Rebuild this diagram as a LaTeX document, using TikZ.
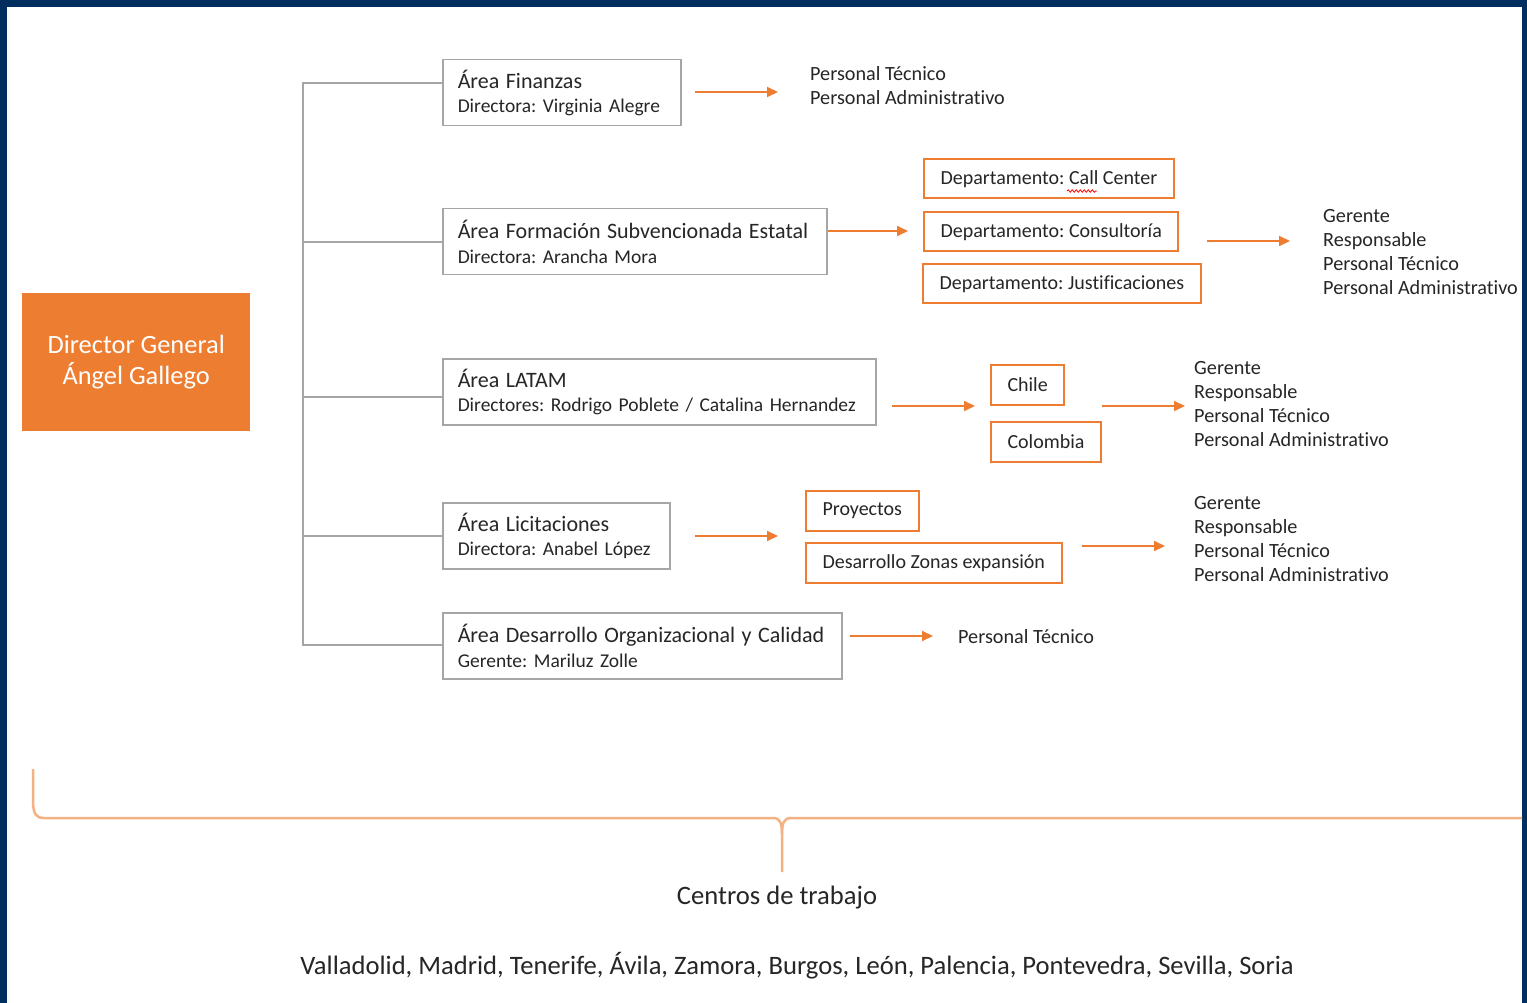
\documentclass[tikz,border=0pt]{standalone}
\usepackage{fontspec}
\setmainfont{Carlito}[Ligatures={NoCommon,NoDiscretionary}]
\frenchspacing
\usetikzlibrary{arrows.meta,decorations.pathmorphing}
\definecolor{navy}{RGB}{0,47,95}
\definecolor{orng}{RGB}{237,125,49}
\definecolor{gryline}{RGB}{166,166,166}
\definecolor{txt}{RGB}{38,38,38}
\definecolor{bracecol}{RGB}{244,177,131}
\newcommand\ttlfont{\fontsize{22}{24.5}\selectfont}
\newcommand\boxtxt[2]{\mbox{\ttlfont #1}\\\mbox{#2}}
\tikzset{
  graybox/.style={draw=gryline, line width=1.5pt, anchor=north west, inner xsep=15pt, inner ysep=0pt,
    align=left, text=txt, minimum height=66pt, font=\frenchspacing\fontsize{19.5}{24.5}\selectfont},
  obox/.style={draw=orng, line width=2pt, anchor=north west, inner xsep=16.5pt, inner ysep=0pt,
    text=txt, minimum height=39.5pt, font=\frenchspacing\fontsize{20}{24}\selectfont},
  listtxt/.style={anchor=west, inner sep=0pt, align=left, text=txt, font=\fontsize{20.2}{24}\selectfont},
  oarrow/.style={draw=orng, line width=2pt, -{Triangle[length=11pt,width=10pt]}},
  gline/.style={draw=gryline, line width=2pt}
}
\begin{document}
\begin{tikzpicture}[x=1pt,y=-1pt]
\useasboundingbox (0,0) rectangle (1527,1003);
\fill[navy] (0,0) rectangle (1527,1003);
\fill[white] (7,7) rectangle (1522,1003);

% Director
\node[fill=orng, minimum width=228pt, minimum height=138pt, anchor=north west, text=white,
  align=center, font=\fontsize{26.4}{31}\selectfont] (dg) at (22,293) {Director General\\Ángel Gallego};

% Area boxes
\node[graybox, text width=208pt] (fin) at (442,59) {\boxtxt{Área Finanzas}{Directora: Virginia Alegre}};
\node[graybox, text width=354pt] (form) at (442,208) {\boxtxt{Área Formación Subvencionada Estatal}{Directora: Arancha Mora}};
\node[graybox, text width=403pt] (latam) at (442,358) {\boxtxt{Área LATAM}{Directores: Rodrigo Poblete / Catalina Hernandez}};
\node[graybox, text width=197pt] (lic) at (442,502) {\boxtxt{Área Licitaciones}{Directora: Anabel López}};
\node[graybox, text width=369pt] (des) at (442,612) {\boxtxt{Área Desarrollo Organizacional y Calidad}{Gerente: Mariluz Zolle}};

% gray tree
\coordinate (t1) at (303,83);
\coordinate (t5) at (303,645);
\draw[gline] (fin.west |- t1) -- (t1) -- (t5) -- (des.west |- t5);
\draw[gline] (form.west) -- (form.west -| t1);
\draw[gline] (latam.west |- 0,397) -- (t1 |- 0,397);
\draw[gline] (lic.west |- 0,536) -- (t1 |- 0,536);

% Finanzas
\coordinate (a1s) at (695,92); \coordinate (a1e) at (778,92);
\draw[oarrow] (a1s) -- (a1e);
\node[listtxt] (l1) at (810,86) {Personal Técnico\\Personal Administrativo};

% Formacion
\coordinate (a2s) at (828,231); \coordinate (a2e) at (908,231);
\draw[oarrow] (a2s) -- (a2e);
\node[obox] (dcc) at (923,158) {Departamento: Call Center};
\node[obox] (dco) at (923,211) {Departamento: Consultoría};
\node[obox] (dju) at (922,263) {Departamento: Justificaciones};
\draw[red, line width=0.8pt, decorate, decoration={snake, amplitude=1.2pt, segment length=4pt}] (1067,191) -- (1097,191);
\coordinate (a3s) at (1207,241); \coordinate (a3e) at (1290,241);
\draw[oarrow] (a3s) -- (a3e);
\node[listtxt] (l2) at (1323,252) {Gerente\\Responsable\\Personal Técnico\\Personal Administrativo};

% LATAM
\coordinate (a4s) at (892,406); \coordinate (a4e) at (975,406);
\draw[oarrow] (a4s) -- (a4e);
\node[obox] (chi) at (990,364) {Chile};
\node[obox] (col) at (990,421) {Colombia};
\coordinate (a5s) at (1102,406); \coordinate (a5e) at (1185,406);
\draw[oarrow] (a5s) -- (a5e);
\node[listtxt] (l3) at (1194,404) {Gerente\\Responsable\\Personal Técnico\\Personal Administrativo};

% Licitaciones
\coordinate (a6s) at (695,536); \coordinate (a6e) at (778,536);
\draw[oarrow] (a6s) -- (a6e);
\node[obox] (pro) at (805,490) {Proyectos};
\node[obox] (dze) at (805,542) {Desarrollo Zonas expansión};
\coordinate (a7s) at (1082,546); \coordinate (a7e) at (1165,546);
\draw[oarrow] (a7s) -- (a7e);
\node[listtxt] (l4) at (1194,539) {Gerente\\Responsable\\Personal Técnico\\Personal Administrativo};

% Desarrollo
\coordinate (a8s) at (850,636); \coordinate (a8e) at (933,636);
\draw[oarrow] (a8s) -- (a8e);
\node[listtxt] (l5) at (958,637) {Personal Técnico};

% brace
\coordinate (bl) at (33,769);
\coordinate (bm) at (782,872);
\coordinate (br) at (1522,818);
\draw[bracecol, line width=2.5pt] (bl) -- (33,800) .. controls (33,814) and (36,818) .. (44,818)
  -- (773,818) .. controls (780,818) and (782,823) .. (782,834) -- (bm);
\draw[bracecol, line width=2.5pt] (782,834) .. controls (782,823) and (784,818) .. (791,818) -- (br);

\node[text=txt, font=\fontsize{26.6}{31}\selectfont] (ct) at (777,898) {Centros de trabajo};
\node[text=txt, font=\fontsize{26.6}{31}\selectfont] (cities) at (797,966) {Valladolid, Madrid, Tenerife, Ávila, Zamora, Burgos, León, Palencia, Pontevedra, Sevilla, Soria};
\end{tikzpicture}
\end{document}
